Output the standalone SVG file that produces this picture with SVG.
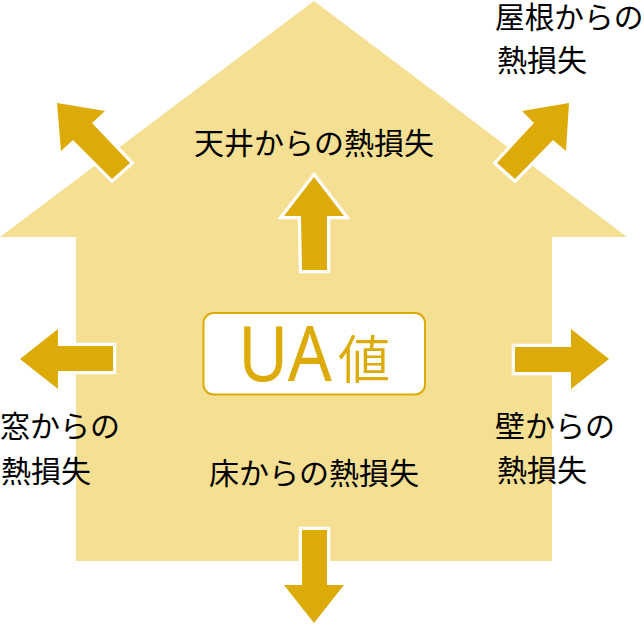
<svg xmlns="http://www.w3.org/2000/svg" width="644" height="630" viewBox="0 0 644 630">
<style>
.arrow{fill:#dcab07;stroke:#fff;stroke-width:6.500;paint-order:stroke;stroke-miterlimit:8}
.label{font-family:"Noto Sans CJK JP","Noto Sans",sans-serif;font-size:30px;fill:#000}
.ua{font-family:"Noto Sans","Noto Sans CJK JP",sans-serif;fill:#dcab07;font-weight:400}
</style>
<rect width="644" height="630" fill="#fff"/>
<g id="house"><polygon points="314,1 0,237 76,237 76,561 552,561 552,237 627,237" fill="#f5df93"/></g>
<g id="connectors">
<polygon class="arrow" points="314,177 344,216 327,216 327,270 302,270 301,216 284,216"/>
<polygon class="arrow" points="57,103 105,111 92,123 130,163 112,179 73,140 61,151"/>
<polygon class="arrow" points="569,103 522,111 534,123 497,163 515,179 553,140 566,151"/>
<polygon class="arrow" points="20,359 58,329 58,346 113,346 113,371 58,371 58,389"/>
<polygon class="arrow" points="609,359 571,329 571,347 515,347 515,372 571,372 571,389"/>
<polygon class="arrow" points="314,623 284,585 302,585 302,530 327,530 327,585 344,585"/>
</g>
<g id="ua-value">
<rect x="203.500" y="313" width="221.500" height="81.500" rx="10" fill="#fff" stroke="#dcab07" stroke-width="2"/>
<text class="ua" x="238" y="381" font-size="77" textLength="94" lengthAdjust="spacingAndGlyphs">UA</text>
<text class="ua" x="338" y="379" font-size="52" style="font-family:'Noto Sans CJK JP',sans-serif;font-weight:350">値</text>
</g>
<g id="ceiling"><text class="label" x="194" y="154">天井からの熱損失</text></g>
<g id="roof"><text class="label" x="495" y="28" style="font-size:29.700px">屋根からの</text><text class="label" x="497" y="71">熱損失</text></g>
<g id="window"><text class="label" x="0" y="437">窓からの</text><text class="label" x="1" y="482">熱損失</text></g>
<g id="floor"><text class="label" x="209" y="484">床からの熱損失</text></g>
<g id="wall"><text class="label" x="495" y="437">壁からの</text><text class="label" x="497" y="481">熱損失</text></g>
</svg>
